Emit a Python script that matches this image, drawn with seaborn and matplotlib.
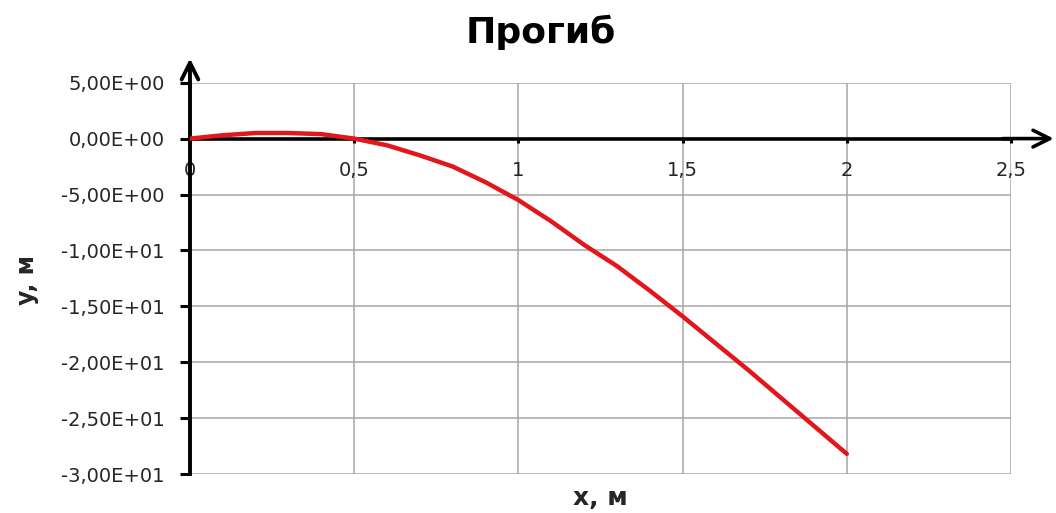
import matplotlib
matplotlib.use("Agg")
import matplotlib.pyplot as plt
import seaborn as sns
import pandas as pd
from matplotlib.ticker import FuncFormatter

# Deflection of the beam along its length
x_m = [0.0, 0.1, 0.2, 0.3, 0.4, 0.5, 0.6, 0.7, 0.8, 0.9, 1.0,
       1.1, 1.2, 1.3, 1.4, 1.5, 1.6, 1.7, 1.8, 1.9, 2.0]
y_m = [0.0, 0.3, 0.5, 0.5, 0.4, 0.0, -0.6, -1.5, -2.5, -3.9, -5.5,
       -7.4, -9.5, -11.4, -13.6, -15.9, -18.3, -20.7, -23.2, -25.7, -28.2]

x_ticks = [0, 0.5, 1.0, 1.5, 2.0, 2.5]
x_tick_labels = ["0", "0,5", "1", "1,5", "2", "2,5"]
y_ticks = [5, 0, -5, -10, -15, -20, -25, -30]

title = "Прогиб"
x_label = "x, м"
y_label = "y, м"

sns.set_theme(style="white")
plt.rcParams["font.family"] = ["DejaVu Sans"]

df = pd.DataFrame({"x": x_m, "y": y_m})

fig = plt.figure(figsize=(10.56, 5.13), dpi=100)
ax = fig.add_axes([0.1799, 0.076, 0.7775, 0.7628])

sns.lineplot(data=df, x="x", y="y", ax=ax, color="#e3161b", linewidth=3.2,
             sort=False, zorder=5)

ax.set_xlim(0, 2.5)
ax.set_ylim(-30, 5)

# Grid
ax.set_xticks(x_ticks)
ax.set_xticklabels(x_tick_labels)
ax.set_yticks(y_ticks)
ax.yaxis.set_major_formatter(
    FuncFormatter(lambda v, p: f"{v:.2E}".replace(".", ",")))
ax.grid(True, color="#a6a6a6", linewidth=1.1)
ax.set_axisbelow(True)

# Spines: y axis on the left, x axis through zero
for s in ("top", "right"):
    ax.spines[s].set_visible(False)
ax.spines["left"].set_color("black")
ax.spines["left"].set_linewidth(2.8)
ax.spines["bottom"].set_position(("data", 0))
ax.spines["bottom"].set_color("black")
ax.spines["bottom"].set_linewidth(2.6)
ax.spines["bottom"].set_zorder(3)

ax.tick_params(axis="y", direction="out", length=7, width=2.2, color="black",
               pad=11, labelsize=14, labelcolor="#262626", left=True)
ax.tick_params(axis="x", direction="out", length=3, width=2.2, color="black",
               pad=13, labelsize=14, labelcolor="#262626", bottom=True)

# Arrow heads on both axes
ax.annotate("", xy=(0, 1.062), xytext=(0, 0.99), xycoords="axes fraction",
            arrowprops=dict(arrowstyle="->", lw=2.8, color="black",
                            mutation_scale=30, shrinkA=0, shrinkB=0),
            annotation_clip=False)
ax.annotate("", xy=(1.052, 0), xytext=(0.99, 0),
            xycoords=("axes fraction", "data"),
            arrowprops=dict(arrowstyle="->", lw=2.6, color="black",
                            mutation_scale=30, shrinkA=0, shrinkB=0),
            annotation_clip=False)

ax.set_xlabel(x_label, fontsize=18, fontweight="bold", color="#262626",
              va="center")
ax.xaxis.set_label_coords(0.4994, -0.062)
ax.set_ylabel(y_label, fontsize=17, fontweight="bold", color="#262626",
              va="center")
ax.yaxis.set_label_coords(-0.1985, 0.496)

fig.text(0.512, 0.916, title, ha="center", va="baseline", fontsize=26,
         fontweight="bold", color="black")

fig.savefig("out.png", dpi=100)
